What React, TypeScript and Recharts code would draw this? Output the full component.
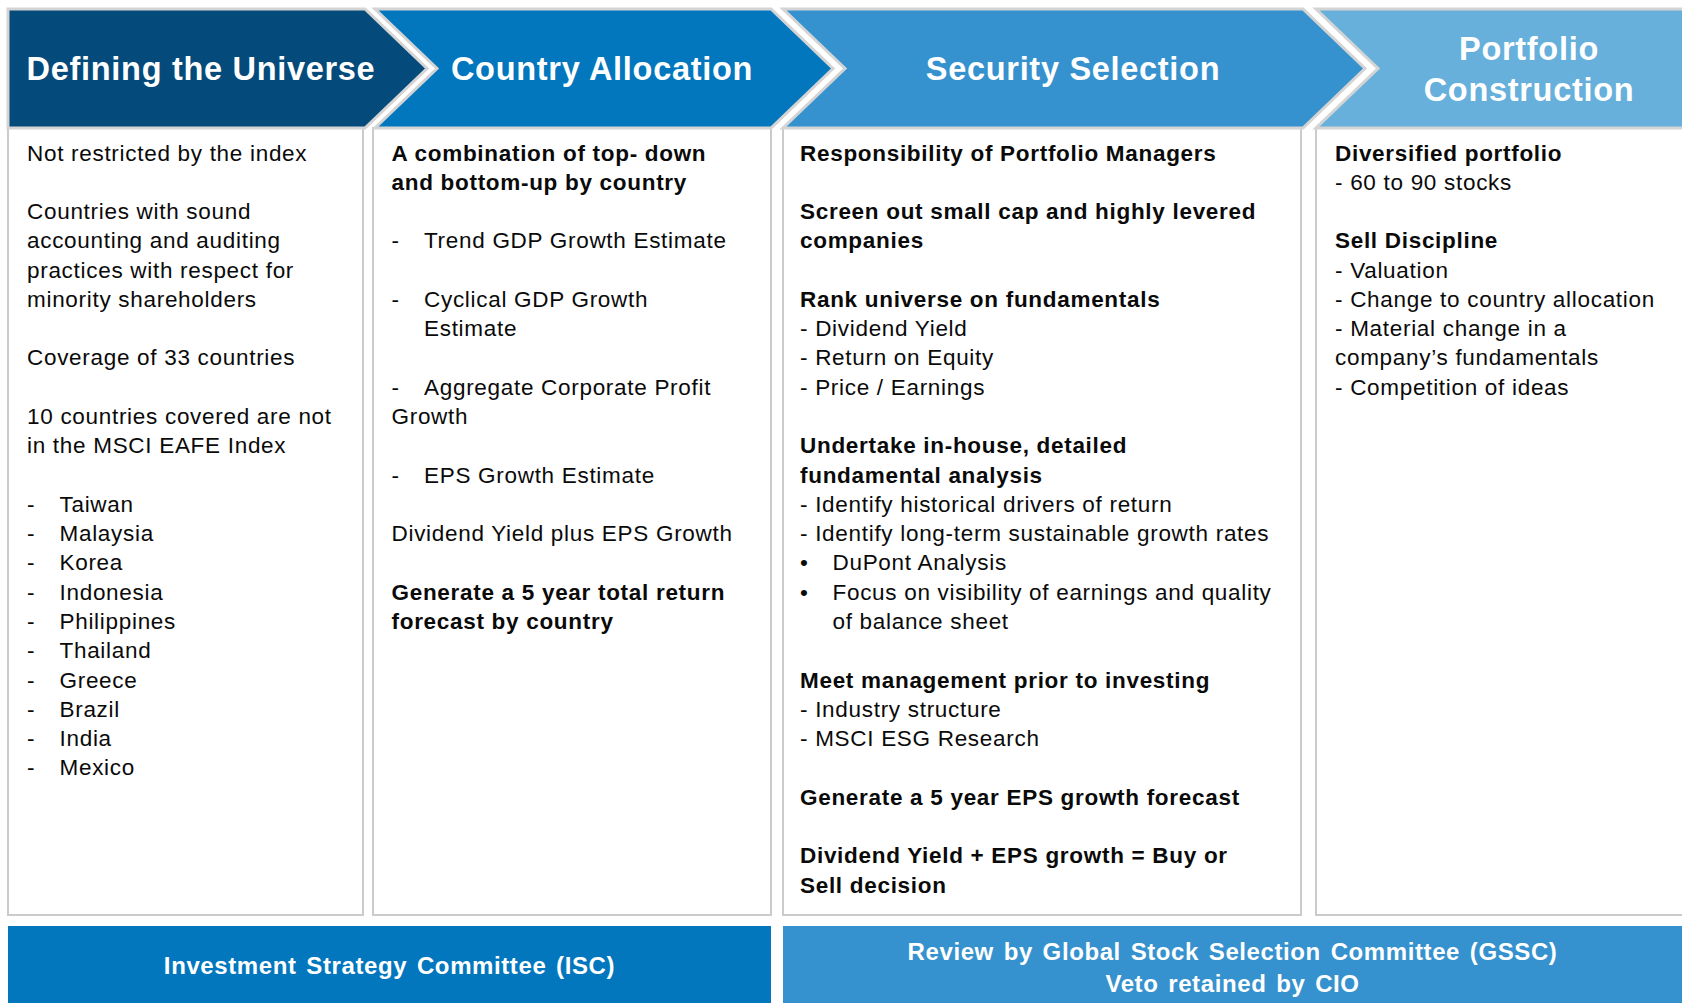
import { ComposedChart, Customized } from 'recharts';

// stage headers (one entry per chevron, one string per line)
const stageTitles = [
  ['Defining the Universe'],
  ['Country Allocation'],
  ['Security Selection'],
  ['Portfolio', 'Construction'],
];

// "# " = bold line, "-\t" = dash item, "•\t" = bullet item, "\t" = hanging indent
const universeNotes = [
  'Not restricted by the index',
  '',
  'Countries with sound',
  'accounting and auditing',
  'practices with respect for',
  'minority shareholders',
  '',
  'Coverage of 33 countries',
  '',
  '10 countries covered are not',
  'in the MSCI EAFE Index',
  '',
];
const nonEafeCountries = [
  'Taiwan', 'Malaysia', 'Korea', 'Indonesia', 'Philippines',
  'Thailand', 'Greece', 'Brazil', 'India', 'Mexico',
];

const allocationNotes = [
  '# A combination of top- down',
  '# and bottom-up by country',
  '',
  '-\tTrend GDP Growth Estimate',
  '',
  '-\tCyclical GDP Growth',
  '\tEstimate',
  '',
  '-\tAggregate Corporate Profit',
  'Growth',
  '',
  '-\tEPS Growth Estimate',
  '',
  'Dividend Yield plus EPS Growth',
  '',
  '# Generate a 5 year total return',
  '# forecast by country',
];

const selectionNotes = [
  '# Responsibility of Portfolio Managers',
  '',
  '# Screen out small cap and highly levered',
  '# companies',
  '',
  '# Rank universe on fundamentals',
  '- Dividend Yield',
  '- Return on Equity',
  '- Price / Earnings',
  '',
  '# Undertake in-house, detailed',
  '# fundamental analysis',
  '- Identify historical drivers of return',
  '- Identify long-term sustainable growth rates',
  '•\tDuPont Analysis',
  '•\tFocus on visibility of earnings and quality',
  '\tof balance sheet',
  '',
  '# Meet management prior to investing',
  '- Industry structure',
  '- MSCI ESG Research',
  '',
  '# Generate a 5 year EPS growth forecast',
  '',
  '# Dividend Yield + EPS growth = Buy or',
  '# Sell decision',
];

const constructionNotes = [
  '# Diversified portfolio',
  '- 60 to 90 stocks',
  '',
  '# Sell Discipline',
  '- Valuation',
  '- Change to country allocation',
  '- Material change in a',
  'company\u2019s fundamentals',
  '- Competition of ideas',
];

const committees = [
  ['Investment Strategy Committee (ISC)'],
  ['Review by Global Stock Selection Committee (GSSC)', 'Veto retained by CIO'],
];

const columns = [
  [...universeNotes, ...nonEafeCountries.map((c) => `-\t${c}`)],
  allocationNotes,
  selectionNotes,
  constructionNotes,
];

// ---- layout ----
const W = 1682;
const H = 1003;
const FONT = '"Liberation Sans", Arial, sans-serif';
const HEAD_TOP = 9;
const HEAD_BOT = 128;
const HEAD_MID = (HEAD_TOP + HEAD_BOT) / 2;
const TIP = 62;
const BOX_BOT = 915;
const BAR_TOP = 926;
const LINE_H = 29.28;
const FIRST_BASE = 160.5;
const INDENT = 32.5;

const headSpans = [[8, 365], [375, 771], [783, 1303], [1316, W + 10]];
const boxSpans = [[8, 363], [373, 771], [783, 1301], [1316, W + 10]];
const textX = [27, 391.5, 800, 1335];
const titleX = [201, 602, 1073, 1529];
const headColors = ['#044A7B', '#0277BE', '#3592CE', '#66B0DB'];
const barSpans = [[8, 771], [783, W + 10]];
const barColors = ['#0277BE', '#3592CE'];

function chevron(i: number) {
  const [x0, x1] = headSpans[i];
  const last = i === headSpans.length - 1;
  const pts: number[][] = [[x0, HEAD_TOP]];
  pts.push([x1, HEAD_TOP]);
  if (!last) pts.push([x1 + TIP, HEAD_MID]);
  pts.push([x1, HEAD_BOT], [x0, HEAD_BOT]);
  if (i > 0) pts.push([x0 + TIP, HEAD_MID]);
  return pts.map((p) => p.join(',')).join(' ');
}

function NoteLine({ line, x, y }: { line: string; x: number; y: number }) {
  if (!line) return null;
  const bold = line.startsWith('# ');
  let body = bold ? line.slice(2) : line;
  let marker = '';
  let dx = 0;
  if (body.startsWith('-\t') || body.startsWith('•\t')) {
    marker = body[0];
    body = body.slice(2);
    dx = INDENT;
  } else if (body.startsWith('\t')) {
    body = body.slice(1);
    dx = INDENT;
  }
  const style = {
    fontFamily: FONT,
    fontSize: 22.5,
    fontWeight: bold ? 700 : 400,
    letterSpacing: 0.7,
    fill: '#0a0a0a',
  } as const;
  return (
    <g>
      {marker && (
        <text x={x} y={y} style={style}>
          {marker}
        </text>
      )}
      <text x={x + dx} y={y} style={style}>
        {body}
      </text>
    </g>
  );
}

function Diagram() {
  return (
    <g>
      <rect x={0} y={0} width={W} height={H} fill="#fff" />
      {boxSpans.map(([x0, x1], i) => (
        <rect
          key={`box-${i}`}
          x={x0}
          y={HEAD_BOT}
          width={x1 - x0}
          height={BOX_BOT - HEAD_BOT}
          fill="#fff"
          stroke="#cbcbcb"
          strokeWidth={2}
        />
      ))}
      {stageTitles.map((title, i) => (
        <g key={`head-${i}`}>
          <polygon
            points={chevron(i)}
            fill={headColors[i]}
            stroke="#d4d4d4"
            strokeWidth={3}
            strokeLinejoin="miter"
          />
          {title.map((t, k) => (
            <text
              key={k}
              x={titleX[i]}
              y={title.length === 1 ? 80 : 59.5 + k * 41}
              textAnchor="middle"
              style={{
                fontFamily: FONT,
                fontSize: 32.5,
                fontWeight: 700,
                letterSpacing: 0.7,
                fill: '#fff',
              }}
            >
              {t}
            </text>
          ))}
        </g>
      ))}
      {columns.map((lines, i) => (
        <g key={`col-${i}`}>
          {lines.map((line, k) => (
            <NoteLine key={k} line={line} x={textX[i]} y={FIRST_BASE + k * LINE_H} />
          ))}
        </g>
      ))}
      {committees.map((lines, i) => {
        const [x0, x1] = barSpans[i];
        const cx = (x0 + Math.min(x1, W)) / 2;
        return (
          <g key={`bar-${i}`}>
            <rect x={x0} y={BAR_TOP} width={x1 - x0} height={H - BAR_TOP + 10} fill={barColors[i]} />
            {lines.map((t, k) => (
              <text
                key={k}
                x={cx}
                y={lines.length === 1 ? 974 : 960 + k * 32}
                textAnchor="middle"
                style={{
                  fontFamily: FONT,
                  fontSize: 24,
                  fontWeight: 700,
                  letterSpacing: 0.6,
                  wordSpacing: 2.5,
                  fill: '#fff',
                }}
              >
                {t}
              </text>
            ))}
          </g>
        );
      })}
    </g>
  );
}

export default function App() {
  return (
    <div style={{ position: 'absolute', left: 0, top: 0, background: '#fff' }}>
      <ComposedChart
        width={W}
        height={H}
        data={stageTitles.map((t) => ({ name: t.join(' ') }))}
        margin={{ top: 0, right: 0, bottom: 0, left: 0 }}
      >
        <Customized component={Diagram} />
      </ComposedChart>
    </div>
  );
}
